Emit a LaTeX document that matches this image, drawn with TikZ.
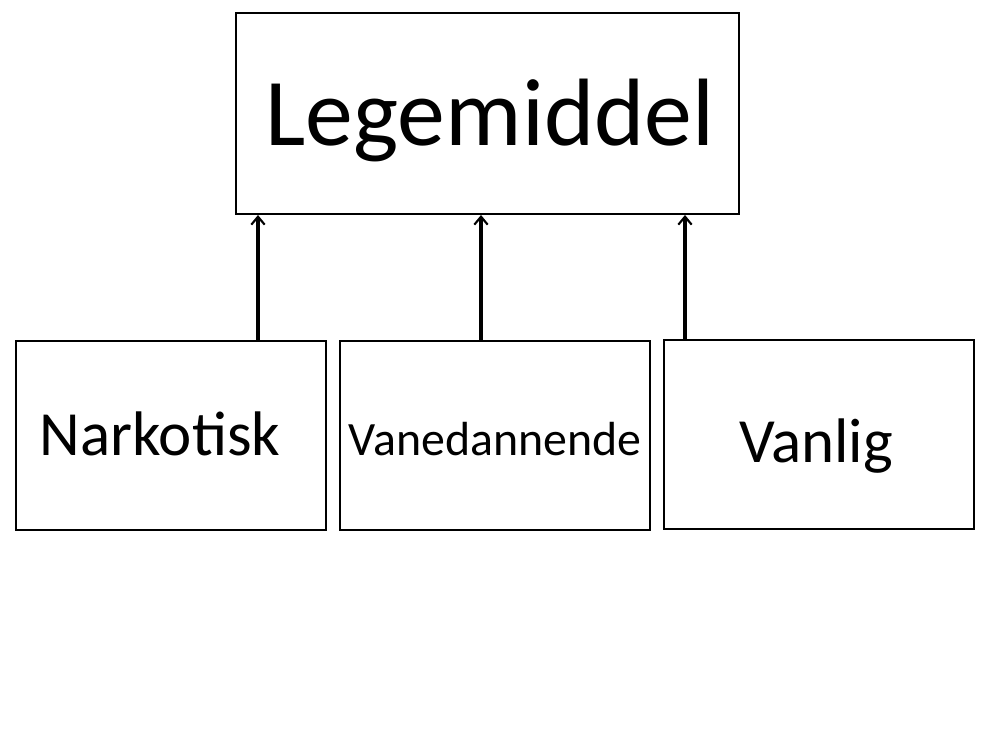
\documentclass[tikz,border=0pt]{standalone}
\usepackage{fontspec}
\setmainfont{Carlito}
\usetikzlibrary{arrows.meta}
\begin{document}
\begin{tikzpicture}[x=0.75pt,y=-0.75pt,
  box/.style={draw,line width=1.5pt,rectangle,inner sep=0pt},
  arr/.style={line width=2.5pt,-{Straight Barb[length=6pt,width=10pt,line width=1.6pt]}},
  lbl/.style={inner sep=0pt,anchor=base}]
\useasboundingbox[fill=white] (0,0) rectangle (1000,750);
\node[box,minimum width=377.25pt,minimum height=150.75pt] (top) at (487.5,113.5) {};
\node[box,minimum width=232.5pt,minimum height=141.75pt] (b1) at (171,435.5) {};
\node[box,minimum width=232.5pt,minimum height=141.75pt] (b2) at (495,435.5) {};
\node[box,minimum width=232.5pt,minimum height=141.75pt] (b3) at (819,434.5) {};
\node[lbl,font=\fontsize{71.8pt}{80pt}\selectfont] (t0) at (490,145) {Legemiddel};
\node[lbl,font=\fontsize{47.2pt}{56pt}\selectfont] (t1) at (160,455) {Narkotisk};
\node[lbl,font=\fontsize{35.9pt}{42pt}\selectfont] (t2) at (495,455) {Vanedannende};
\node[lbl,font=\fontsize{47.2pt}{56pt}\selectfont] (t3) at (816,462) {Vanlig};
\coordinate (x1) at (258,0);
\coordinate (x2) at (481,0);
\coordinate (x3) at (685,0);
\draw[arr] (b1.north -| x1) -- (top.south -| x1);
\draw[arr] (b2.north -| x2) -- (top.south -| x2);
\draw[arr] (b3.north -| x3) -- (top.south -| x3);
\end{tikzpicture}
\end{document}
